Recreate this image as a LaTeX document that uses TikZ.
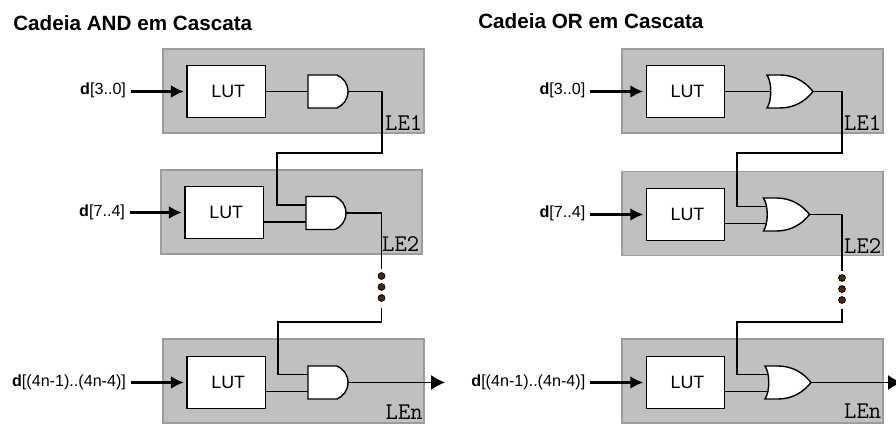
\documentclass[tikz,border=0pt]{standalone}
\usepackage{fontspec}
\setmainfont{Liberation Sans}
\usetikzlibrary{arrows.meta,calc}
\definecolor{lebg}{HTML}{C0C0C0}
\definecolor{leedge}{HTML}{9C9C9C}
\definecolor{dotfill}{HTML}{4A2A0C}
\newcommand{\px}{0.75pt}
\tikzset{
  lebox/.style={draw=leedge,fill=lebg,line width=1.4*\px,minimum width=261*\px,minimum height=84*\px,inner sep=0,outer sep=0},
  lutbox/.style={draw=black,fill=white,line width=1.4*\px,minimum width=78.5*\px,minimum height=52.5*\px,inner sep=0,outer sep=0,font=\fontsize{13.4}{15}\selectfont,execute at begin node={\hspace*{3pt}}},
  lelabel/.style={inner sep=0,anchor=base east,font=\ttfamily\fontsize{18}{20}\selectfont},
  title/.style={inner sep=0,anchor=base west,font=\bfseries\fontsize{15.5}{18}\selectfont},
  inlabel/.style={inner sep=0,outer xsep=5*\px,anchor=east,text height=9*\px,text depth=2*\px,font=\fontsize{12.1}{14}\selectfont},
  wire/.style={draw=black,line width=1.4*\px},
  inarrow/.style={draw=black,line width=2.8*\px,-{Latex[length=13*\px,width=13*\px]},shorten >=3*\px},
  outarrow/.style={draw=black,line width=1.4*\px,-{Latex[length=14*\px,width=15*\px]}},
  gatebody/.style={draw=black,fill=white,line width=1.4*\px},
  gatenode/.style={inner sep=0,outer sep=0,minimum width=40*\px,minimum height=33*\px},
  dotnode/.style={circle,draw=black,fill=dotfill,line width=0.8*\px,minimum size=6.8*\px,inner sep=0},
}
% \andgate{name}{left x}{centre y}
\newcommand{\andgate}[3]{%
  \node[gatenode] (#1) at (#2+20,#3) {};
  \draw[gatebody] (#2,#3-16.5) -- (#2+29,#3-16.5) .. controls (#2+35,#3-14) and (#2+40,#3-8) .. (#2+40,#3)
     .. controls (#2+40,#3+8) and (#2+35,#3+14) .. (#2+29,#3+16.5) -- (#2,#3+16.5) -- cycle;
  \coordinate (#1a) at (#2,#3-8);
  \coordinate (#1b) at (#2,#3+9);
  \coordinate (#1o) at (#2+40,#3);
  \coordinate (#1m) at (#2,#3);
}
% \orgate{name}{left x}{centre y}
\newcommand{\orgate}[3]{%
  \node[gatenode,minimum width=46*\px] (#1) at (#2+23,#3) {};
  \draw[gatebody] (#2,#3-16.5) -- (#2+13,#3-16.5) .. controls (#2+28,#3-16.5) and (#2+39,#3-9) .. (#2+46,#3)
     .. controls (#2+39,#3+9) and (#2+28,#3+16.5) .. (#2+13,#3+16.5) -- (#2,#3+16.5)
     .. controls (#2+5,#3+9) and (#2+5,#3-9) .. (#2,#3-16.5) -- cycle;
  \coordinate (#1a) at (#2+3,#3-8);
  \coordinate (#1b) at (#2+3,#3+9);
  \coordinate (#1o) at (#2+46,#3);
  \coordinate (#1m) at (#2+4,#3);
}
\begin{document}
\begin{tikzpicture}[x=\px,y=-\px]
\useasboundingbox (0,0) rectangle (896,424);
\fill[white] (0,0) rectangle (896,424);

\node[title] (tl) at (13,30.5) {Cadeia AND em Cascata};
\node[title] (tr) at (478,28.5) {Cadeia OR em Cascata};

% ---------- left: AND
\node[lebox] (a1) at (293.5,91) {};
\node[lebox] (a2) at (291.5,212) {};
\node[lebox] (a3) at (293.5,381) {};
\node[lutbox] (al1) at (226.2,91.5) {LUT};
\node[lutbox] (al2) at (224.2,212.5) {LUT};
\node[lutbox] (al3) at (226.2,382.5) {LUT};
\node[inlabel] (ai1) at ($(al1.west)+(-56,0)$) {\textbf{d}[3..0]};
\node[inlabel] (ai2) at ($(al2.west)+(-55,0)$) {\textbf{d}[7..4]};
\node[inlabel] (ai3) at ($(al3.west)+(-56,0)$) {\textbf{d}[(4n-1)..(4n-4)]};
\draw[inarrow] (ai1.east) -- (al1.west);
\draw[inarrow] (ai2.east) -- (al2.west);
\draw[inarrow] (ai3.east) -- (al3.west);
\andgate{ag1}{308}{91.5}
\andgate{ag2}{306}{213}
\andgate{ag3}{308}{382.5}
\draw[wire] (al1.east) -- (ag1m);
\draw[wire] (al2.east |- ag2b) -- (ag2b);
\draw[wire] (al3.east |- ag3b) -- (ag3b);
\coordinate (ac1) at (382,153);
\coordinate (ac2) at (277,153);
\draw[wire] (ag1o) -| (ac1) -- (ac2) |- (ag2a);
\node[dotnode] (ad1) at (381.5,276) {};
\node[dotnode] (ad2) at (381.5,287) {};
\node[dotnode] (ad3) at (381.5,298) {};
\coordinate (ae1) at (381.5,269);
\coordinate (ae2) at (381.5,308);
\coordinate (ae3) at (278,322);
\draw[wire] (ag2o) -| (ae1);
\draw[wire] (ae2) |- (ae3) |- (ag3a);
\coordinate (aout) at (445,382.5);
\draw[outarrow] (ag3o) -- (aout);
\node[lelabel] (at1) at ($(a1.south east)+(-1.5,-2.5)$) {LE1};
\node[lelabel] (at2) at ($(a2.south east)+(-2.5,-3)$) {LE2};
\node[lelabel] (at3) at ($(a3.south east)+(-1,-4)$) {LEn};

% ---------- right: OR
\node[lebox] (o1) at (752.5,91) {};
\node[lebox] (o2) at (752.5,213.5) {};
\node[lebox] (o3) at (752.5,381) {};
\node[lutbox] (ol1) at (685.5,91.5) {LUT};
\node[lutbox] (ol2) at (685.5,214.5) {LUT};
\node[lutbox] (ol3) at (685.5,382.5) {LUT};
\node[inlabel] (oi1) at ($(ol1.west)+(-56,0)$) {\textbf{d}[3..0]};
\node[inlabel] (oi2) at ($(ol2.west)+(-56,0)$) {\textbf{d}[7..4]};
\node[inlabel] (oi3) at ($(ol3.west)+(-56,0)$) {\textbf{d}[(4n-1)..(4n-4)]};
\draw[inarrow] (oi1.east) -- (ol1.west);
\draw[inarrow] (oi2.east) -- (ol2.west);
\draw[inarrow] (oi3.east) -- (ol3.west);
\orgate{og1}{767}{91.5}
\orgate{og2}{763.5}{214.5}
\orgate{og3}{765}{382.5}
\draw[wire] (ol1.east) -- (og1m);
\draw[wire] (ol2.east |- og2b) -- (og2b);
\draw[wire] (ol3.east |- og3b) -- (og3b);
\coordinate (oc1) at (842,153);
\coordinate (oc2) at (737,153);
\draw[wire] (og1o) -| (oc1) -- (oc2) |- (og2a);
\node[dotnode] (od1) at (842,278) {};
\node[dotnode] (od2) at (842,289) {};
\node[dotnode] (od3) at (842,300) {};
\coordinate (oe1) at (842,271);
\coordinate (oe2) at (842,309);
\coordinate (oe3) at (737,322);
\draw[wire] (og2o) -| (oe1);
\draw[wire] (oe2) |- (oe3) |- (og3a);
\coordinate (oout) at (902,382.5);
\draw[outarrow] (og3o) -- (oout);
\node[lelabel] (ot1) at ($(o1.south east)+(-1.5,-2.5)$) {LE1};
\node[lelabel] (ot2) at ($(o2.south east)+(-1.5,-2)$) {LE2};
\node[lelabel] (ot3) at ($(o3.south east)+(-1.5,-5)$) {LEn};
\end{tikzpicture}
\end{document}
